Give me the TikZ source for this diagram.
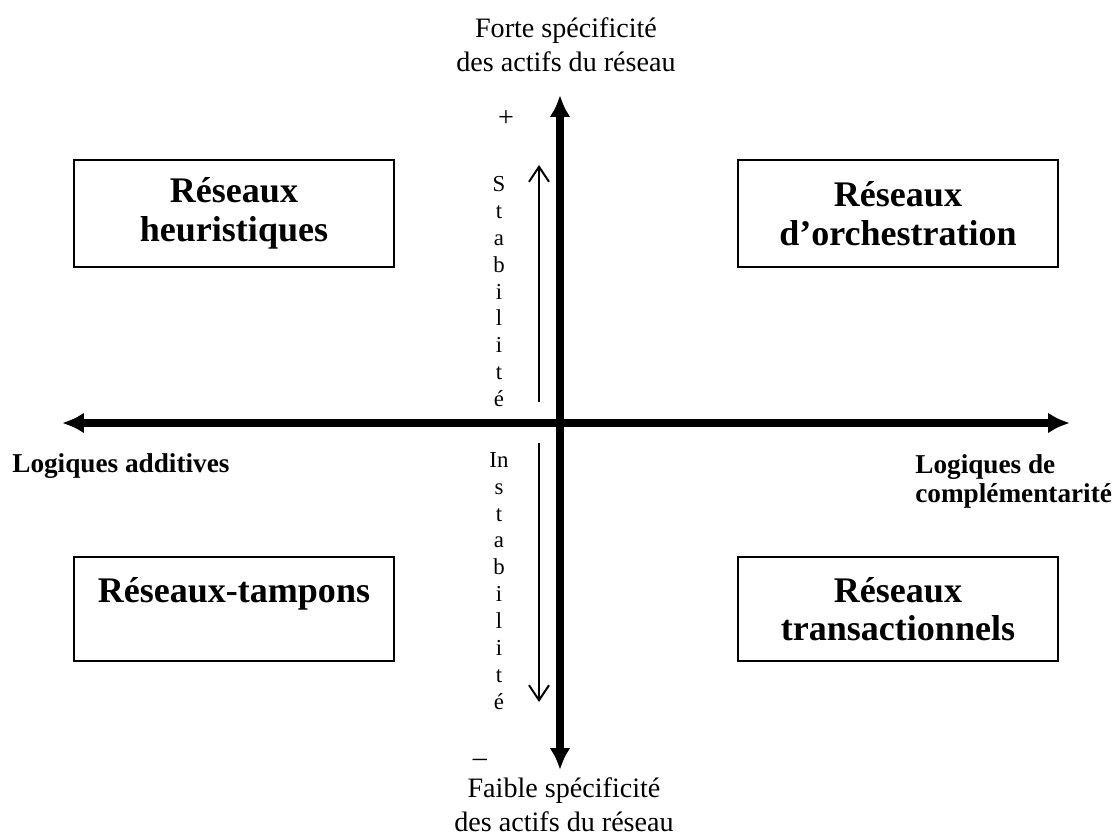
\documentclass[tikz,border=0pt]{standalone}
\usepackage{fontspec}
\setmainfont{Liberation Serif}
\usetikzlibrary{arrows.meta}

\tikzstyle{box}=[rectangle,draw,line width=0.9pt,minimum width=6.4cm,align=center,font=\fontsize{20.5}{22}\selectfont\bfseries]
\tikzstyle{axis}=[line width=0.16cm,{Latex[length=0.44cm,width=0.42cm]}-{Latex[length=0.44cm,width=0.42cm]}]
\tikzstyle{trend}=[line width=0.04cm,-{Straight Barb[length=0.3cm,width=0.4cm]}]
\tikzstyle{pole}=[align=center,inner sep=0pt,font=\fontsize{16}{19.5}\selectfont]
\tikzstyle{logic}=[align=left,inner sep=0pt,font=\fontsize{15.5}{16.5}\selectfont\bfseries]
\tikzstyle{letters}=[align=center,inner sep=0pt,font=\fontsize{13}{15.3}\selectfont]

\begin{document}
\begin{tikzpicture}[x=0.02cm,y=-0.02cm]
  \useasboundingbox (0,0) rectangle (1117,838);
  % axes
  \coordinate (addend) at (62,423);
  \coordinate (compend) at (1070,423);
  \coordinate (forte) at (560,95);
  \coordinate (faible) at (560,770);
  \draw[axis] (addend) -- (compend);
  \draw[axis] (faible) -- (forte);
  % quadrants
  \node[box,minimum height=2.14cm] (heur) at (234,213.5) {Réseaux\\heuristiques};
  \node[box,minimum height=2.14cm] (orch) at (898,213.5) {Réseaux\\d’orchestration};
  \node[box,minimum height=2.08cm] (tamp) at (234,609) {Réseaux-tampons\\\phantom{R}};
  \node[box,minimum height=2.08cm] (trans) at (898,609) {Réseaux\\transactionnels};
  % pole labels
  \node[pole,anchor=north] (fortelab) at (566,17) {Forte spécificité\\des actifs du réseau};
  \node[pole,anchor=north] (faiblelab) at (564,777) {Faible spécificité\\des actifs du réseau};
  \node[pole,anchor=base] (plus) at (506,127) {+};
  \node[pole,anchor=base] (minus) at (480,766) {–};
  \node[logic,anchor=base west] (additive) at (12,472) {Logiques additives};
  \node[logic,anchor=base west] (complement) at (915,502) {Logiques de\\complémentarité};
  % stability
  \coordinate (stabbot) at (539,402);
  \coordinate (stabtop) at (539,165);
  \coordinate (instop) at (539,443);
  \coordinate (insbot) at (539,702);
  \draw[trend] (stabbot) -- (stabtop);
  \draw[trend] (instop) -- (insbot);
  \node[letters,anchor=north] (stab) at (499,176) {S\\t\\a\\b\\i\\l\\i\\t\\é};
  \node[letters,anchor=north] (instab) at (499,452) {In\\s\\t\\a\\b\\i\\l\\i\\t\\é};
\end{tikzpicture}
\end{document}
